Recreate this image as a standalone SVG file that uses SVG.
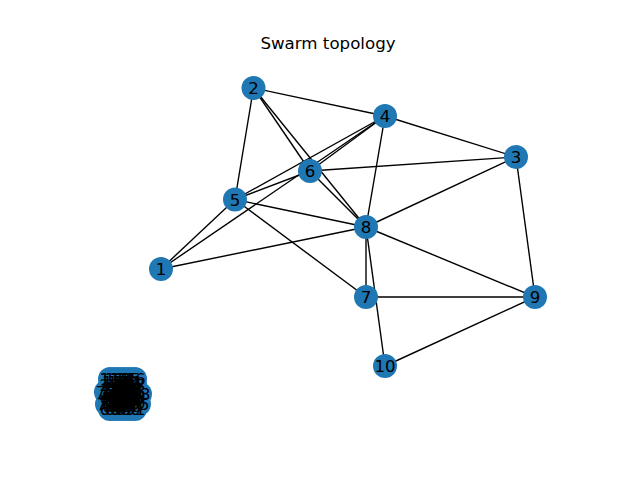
<svg xmlns="http://www.w3.org/2000/svg" width="640" height="480" viewBox="0 0 640 480">
<style>
.e{stroke:#000;stroke-width:1.39;fill:none}
.n{fill:#1f77b4}
.t{font-family:"DejaVu Sans",sans-serif;font-size:16.67px;fill:#000;text-anchor:middle}
.title{font-family:"DejaVu Sans",sans-serif;font-size:16.67px;fill:#000;text-anchor:middle}
</style>
<rect width="640" height="480" fill="#fff"/>
<text class="title" x="328" y="49">Swarm topology</text>
<g id="edges">
<line class="e" x1="161" y1="269" x2="235" y2="199.5"/>
<line class="e" x1="161" y1="269" x2="385" y2="116"/>
<line class="e" x1="161" y1="269" x2="366" y2="227"/>
<line class="e" x1="253.5" y1="88" x2="385" y2="116"/>
<line class="e" x1="253.5" y1="88" x2="235" y2="199.5"/>
<line class="e" x1="253.5" y1="88" x2="310" y2="171"/>
<line class="e" x1="253.5" y1="88" x2="366" y2="227"/>
<line class="e" x1="516" y1="157" x2="385" y2="116"/>
<line class="e" x1="516" y1="157" x2="310" y2="171"/>
<line class="e" x1="516" y1="157" x2="366" y2="227"/>
<line class="e" x1="516" y1="157" x2="535" y2="297"/>
<line class="e" x1="385" y1="116" x2="235" y2="199.5"/>
<line class="e" x1="385" y1="116" x2="310" y2="171"/>
<line class="e" x1="385" y1="116" x2="366" y2="227"/>
<line class="e" x1="235" y1="199.5" x2="310" y2="171"/>
<line class="e" x1="235" y1="199.5" x2="366" y2="227"/>
<line class="e" x1="235" y1="199.5" x2="366" y2="297"/>
<line class="e" x1="310" y1="171" x2="366" y2="227"/>
<line class="e" x1="366" y1="227" x2="366" y2="297"/>
<line class="e" x1="366" y1="297" x2="535" y2="297"/>
<line class="e" x1="366" y1="227" x2="535" y2="297"/>
<line class="e" x1="366" y1="227" x2="385" y2="366"/>
<line class="e" x1="535" y1="297" x2="385" y2="366"/>
</g>
<g id="node-1"><circle class="n" cx="161" cy="269" r="12"/><text class="t" x="161" y="275">1</text></g>
<g id="node-2"><circle class="n" cx="253.5" cy="88" r="12"/><text class="t" x="253.5" y="94">2</text></g>
<g id="node-3"><circle class="n" cx="516" cy="157" r="12"/><text class="t" x="516" y="163">3</text></g>
<g id="node-4"><circle class="n" cx="385" cy="116" r="12"/><text class="t" x="385" y="122">4</text></g>
<g id="node-5"><circle class="n" cx="235" cy="199.5" r="12"/><text class="t" x="235" y="205.5">5</text></g>
<g id="node-6"><circle class="n" cx="310" cy="171" r="12"/><text class="t" x="310" y="177">6</text></g>
<g id="node-7"><circle class="n" cx="366" cy="297" r="12"/><text class="t" x="366" y="303">7</text></g>
<g id="node-8"><circle class="n" cx="366" cy="227" r="12"/><text class="t" x="366" y="233">8</text></g>
<g id="node-9"><circle class="n" cx="535" cy="297" r="12"/><text class="t" x="535" y="303">9</text></g>
<g id="node-10"><circle class="n" cx="385" cy="366" r="12"/><text class="t" x="385" y="372">10</text></g>
<g id="cluster-nodes">
<circle class="n" cx="106" cy="392" r="12"/><circle class="n" cx="140" cy="394" r="12"/>
<circle class="n" cx="107" cy="404" r="12"/><circle class="n" cx="139" cy="404" r="12"/>
<circle class="n" cx="110" cy="379" r="12"/><circle class="n" cx="115" cy="379" r="12"/><circle class="n" cx="120" cy="379" r="12"/><circle class="n" cx="125" cy="379" r="12"/><circle class="n" cx="130" cy="379" r="12"/><circle class="n" cx="135" cy="379" r="12"/>
<circle class="n" cx="112.5" cy="382" r="12"/><circle class="n" cx="117.5" cy="382" r="12"/><circle class="n" cx="122.5" cy="382" r="12"/><circle class="n" cx="127.5" cy="382" r="12"/><circle class="n" cx="132.5" cy="382" r="12"/>
<circle class="n" cx="110" cy="385" r="12"/><circle class="n" cx="115" cy="385" r="12"/><circle class="n" cx="120" cy="385" r="12"/><circle class="n" cx="125" cy="385" r="12"/><circle class="n" cx="130" cy="385" r="12"/><circle class="n" cx="135" cy="385" r="12"/>
<circle class="n" cx="112.5" cy="388" r="12"/><circle class="n" cx="117.5" cy="388" r="12"/><circle class="n" cx="122.5" cy="388" r="12"/><circle class="n" cx="127.5" cy="388" r="12"/><circle class="n" cx="132.5" cy="388" r="12"/>
<circle class="n" cx="110" cy="391" r="12"/><circle class="n" cx="115" cy="391" r="12"/><circle class="n" cx="120" cy="391" r="12"/><circle class="n" cx="125" cy="391" r="12"/><circle class="n" cx="130" cy="391" r="12"/><circle class="n" cx="135" cy="391" r="12"/>
<circle class="n" cx="112.5" cy="394" r="12"/><circle class="n" cx="117.5" cy="394" r="12"/><circle class="n" cx="122.5" cy="394" r="12"/><circle class="n" cx="127.5" cy="394" r="12"/><circle class="n" cx="132.5" cy="394" r="12"/>
<circle class="n" cx="110" cy="397" r="12"/><circle class="n" cx="115" cy="397" r="12"/><circle class="n" cx="120" cy="397" r="12"/><circle class="n" cx="125" cy="397" r="12"/><circle class="n" cx="130" cy="397" r="12"/><circle class="n" cx="135" cy="397" r="12"/>
<circle class="n" cx="112.5" cy="400" r="12"/><circle class="n" cx="117.5" cy="400" r="12"/><circle class="n" cx="122.5" cy="400" r="12"/><circle class="n" cx="127.5" cy="400" r="12"/><circle class="n" cx="132.5" cy="400" r="12"/>
<circle class="n" cx="110" cy="403" r="12"/><circle class="n" cx="115" cy="403" r="12"/><circle class="n" cx="120" cy="403" r="12"/><circle class="n" cx="125" cy="403" r="12"/><circle class="n" cx="130" cy="403" r="12"/><circle class="n" cx="135" cy="403" r="12"/>
<circle class="n" cx="112.5" cy="406" r="12"/><circle class="n" cx="117.5" cy="406" r="12"/><circle class="n" cx="122.5" cy="406" r="12"/><circle class="n" cx="127.5" cy="406" r="12"/><circle class="n" cx="132.5" cy="406" r="12"/>
<circle class="n" cx="110" cy="409" r="12"/><circle class="n" cx="115" cy="409" r="12"/><circle class="n" cx="120" cy="409" r="12"/><circle class="n" cx="125" cy="409" r="12"/><circle class="n" cx="130" cy="409" r="12"/><circle class="n" cx="135" cy="409" r="12"/>
</g>
<g id="cluster-labels">
<text class="t" x="110" y="385">11</text><text class="t" x="115" y="385">12</text><text class="t" x="120" y="385">13</text><text class="t" x="125" y="385">14</text><text class="t" x="130" y="385">15</text><text class="t" x="135" y="385">16</text>
<text class="t" x="112.5" y="388">17</text><text class="t" x="117.5" y="388">18</text><text class="t" x="122.5" y="388">19</text><text class="t" x="127.5" y="388">20</text><text class="t" x="132.5" y="388">21</text>
<text class="t" x="110" y="391">22</text><text class="t" x="115" y="391">23</text><text class="t" x="120" y="391">24</text><text class="t" x="125" y="391">25</text><text class="t" x="130" y="391">26</text><text class="t" x="135" y="391">27</text>
<text class="t" x="112.5" y="394">28</text><text class="t" x="117.5" y="394">29</text><text class="t" x="122.5" y="394">30</text><text class="t" x="127.5" y="394">31</text><text class="t" x="132.5" y="394">32</text>
<text class="t" x="110" y="397">33</text><text class="t" x="115" y="397">34</text><text class="t" x="120" y="397">35</text><text class="t" x="125" y="397">36</text><text class="t" x="130" y="397">37</text><text class="t" x="135" y="397">38</text>
<text class="t" x="112.5" y="400">39</text><text class="t" x="117.5" y="400">40</text><text class="t" x="122.5" y="400">41</text><text class="t" x="127.5" y="400">42</text><text class="t" x="132.5" y="400">43</text>
<text class="t" x="110" y="403">44</text><text class="t" x="115" y="403">45</text><text class="t" x="120" y="403">46</text><text class="t" x="125" y="403">47</text><text class="t" x="130" y="403">48</text><text class="t" x="135" y="403">49</text>
<text class="t" x="112.5" y="406">50</text><text class="t" x="117.5" y="406">51</text><text class="t" x="122.5" y="406">52</text><text class="t" x="127.5" y="406">53</text><text class="t" x="132.5" y="406">54</text>
<text class="t" x="110" y="409">55</text><text class="t" x="115" y="409">56</text><text class="t" x="120" y="409">57</text><text class="t" x="125" y="409">58</text><text class="t" x="130" y="409">59</text><text class="t" x="135" y="409">60</text>
<text class="t" x="112.5" y="412">61</text><text class="t" x="117.5" y="412">62</text><text class="t" x="122.5" y="412">63</text><text class="t" x="127.5" y="412">64</text><text class="t" x="132.5" y="412">65</text>
<text class="t" x="110" y="415">66</text><text class="t" x="115" y="415">67</text><text class="t" x="120" y="415">68</text><text class="t" x="125" y="415">69</text><text class="t" x="130" y="415">70</text><text class="t" x="135" y="415">71</text>
<text class="t" x="106" y="398">72</text><text class="t" x="140" y="400">73</text><text class="t" x="107" y="410">74</text><text class="t" x="139" y="410">75</text>
</g>
</svg>
